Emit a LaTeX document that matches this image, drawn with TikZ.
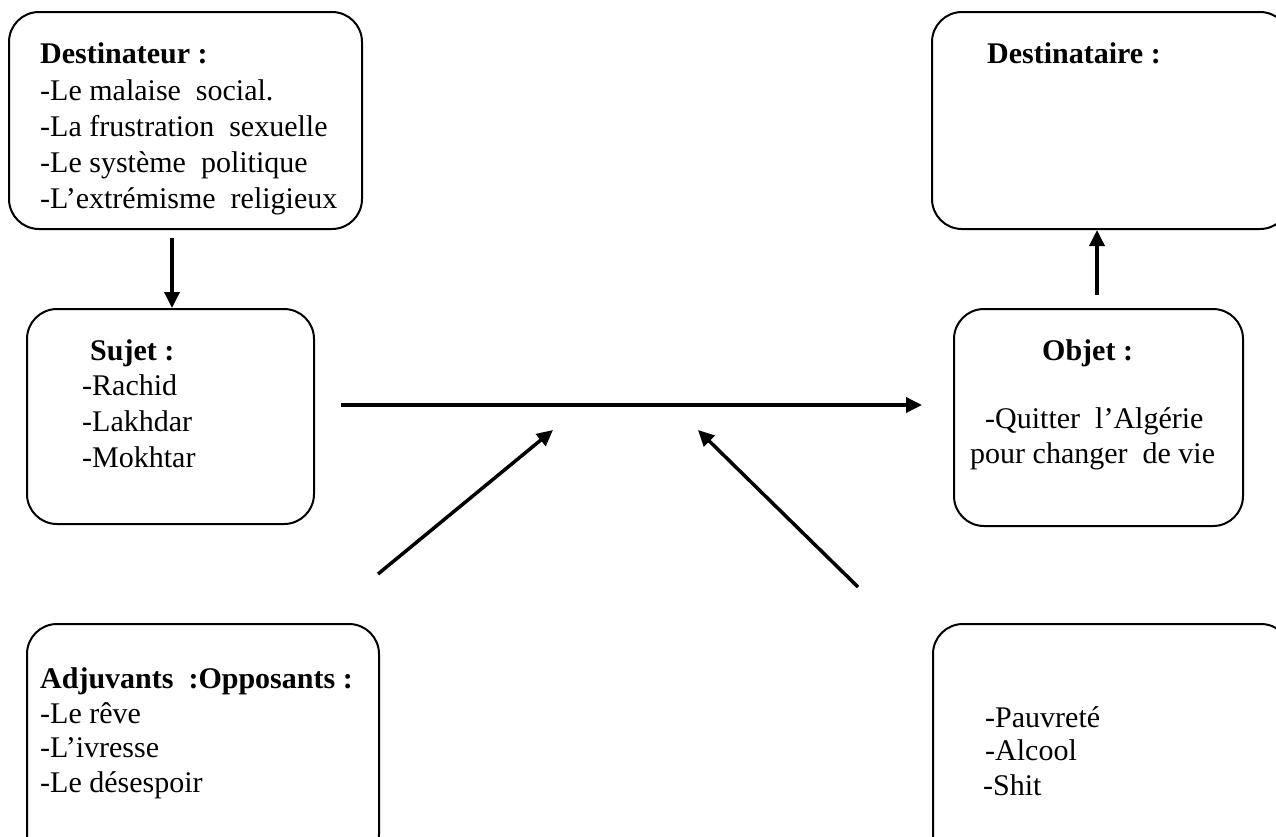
\documentclass[tikz,border=0pt]{standalone}
\usepackage{fontspec}
\setmainfont{Liberation Serif}
\usetikzlibrary{arrows.meta}
\begin{document}
\begin{tikzpicture}[x=1pt,y=-1pt,
  box/.style={draw, line width=2pt, rounded corners=30pt, anchor=north west, inner sep=0pt},
  txt/.style={anchor=base west, inner sep=0pt, font=\fontsize{30}{36}\selectfont},
  hd/.style={anchor=base west, inner sep=0pt, font=\fontsize{30}{36}\selectfont\bfseries},
  link/.style={line width=3.5pt, -{Triangle[length=16pt,width=15pt]}}]
\useasboundingbox (0,0) rectangle (1276,836);
\clip (0,0) rectangle (1276,836);

% actant boxes
\node[box, minimum width=353pt, minimum height=217pt] (dst) at (8,11) {};
\node[box, minimum width=358pt, minimum height=217pt] (dre) at (931,11) {};
\node[box, minimum width=287pt, minimum height=215pt] (suj) at (26,308) {};
\node[box, minimum width=289pt, minimum height=217pt] (obj) at (953,308) {};
\node[box, minimum width=352pt, minimum height=240pt] (adj) at (26,623) {};
\node[box, minimum width=358pt, minimum height=240pt] (opp) at (932,623) {};

% Destinateur
\node[hd]  (dst0) at (40,63)  {Destinateur :};
\node[txt] (dst1) at (40,100) {-Le malaise\ \ social.};
\node[txt] (dst2) at (40,136) {-La frustration\ \ sexuelle};
\node[txt] (dst3) at (40,172) {-Le système\ \ politique};
\node[txt] (dst4) at (40,208) {-L’extrémisme\ \ religieux};

% Destinataire
\node[hd] (dre0) at (987,63) {Destinataire :};

% Sujet
\node[hd]  (suj0) at (90,360) {Sujet :};
\node[txt] (suj1) at (82,395) {-Rachid};
\node[txt] (suj2) at (82,431) {-Lakhdar};
\node[txt] (suj3) at (82,467) {-Mokhtar};

% Objet
\node[hd]  (obj0) at (1042,360) {Objet :};
\node[txt] (obj1) at (985,428)  {-Quitter\ \ l’Algérie};
\node[txt] (obj2) at (970,463)  {pour changer\ \ de vie};

% Adjuvants / Opposants
\node[hd]  (adj0) at (40,688) {Adjuvants\ \ :Opposants :};
\node[txt] (adj1) at (40,723) {-Le rêve};
\node[txt] (adj2) at (40,757) {-L’ivresse};
\node[txt] (adj3) at (40,792) {-Le désespoir};

\node[txt] (opp1) at (985,727) {-Pauvreté};
\node[txt] (opp2) at (985,760) {-Alcool};
\node[txt] (opp3) at (983,795) {-Shit};

% connector end points
\coordinate (dsttail) at (172,238);
\coordinate (objtail) at (1097,295);
\coordinate (axtail) at (341,405);
\coordinate (axhead) at (922,405);
\coordinate (adjtail) at (378,574);
\coordinate (adjhead) at (553,430);
\coordinate (opptail) at (858,587);
\coordinate (opphead) at (698,430);

% connectors
\draw[link] (dsttail) -- (dsttail |- suj.north);
\draw[link] (objtail) -- (objtail |- dre.south);
\draw[link] (axtail) -- (axhead);
\draw[link] (adjtail) -- (adjhead);
\draw[link] (opptail) -- (opphead);
\end{tikzpicture}
\end{document}
